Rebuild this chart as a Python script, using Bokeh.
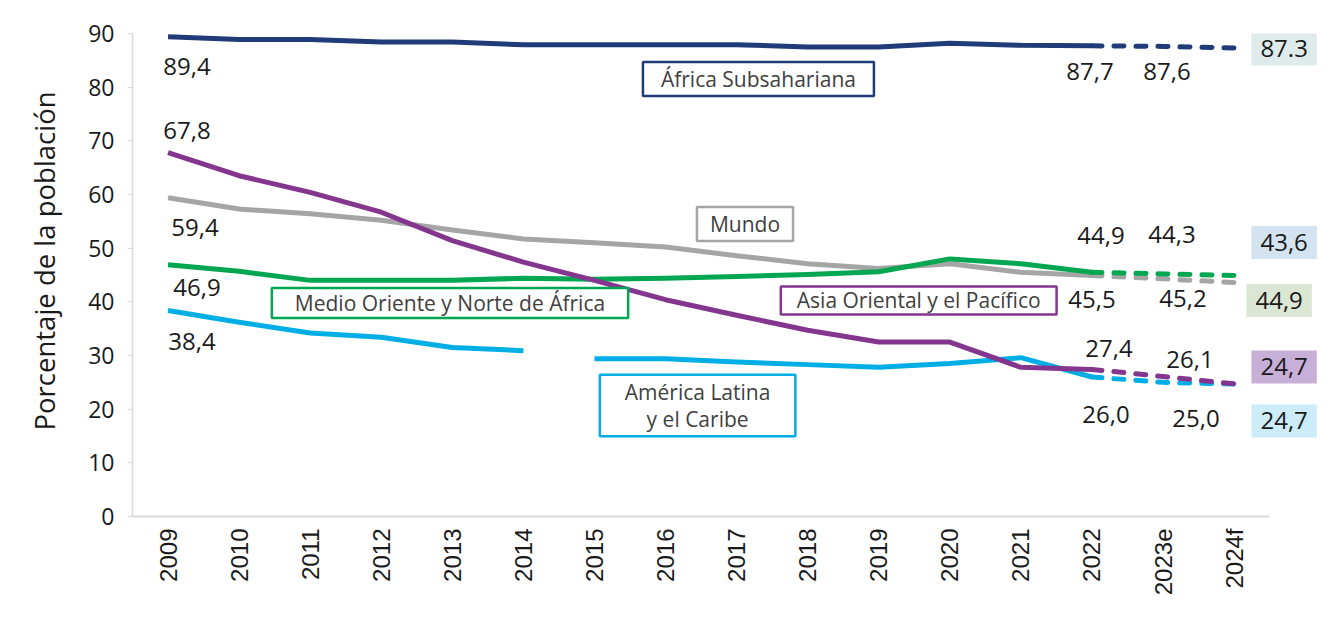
import math
from bokeh.plotting import figure
from bokeh.models import Range1d, FixedTicker, Label, Title
from bokeh.embed import file_html
from bokeh.resources import INLINE

# ---------------- data ----------------
years = ["2009", "2010", "2011", "2012", "2013", "2014", "2015", "2016",
         "2017", "2018", "2019", "2020", "2021", "2022", "2023e", "2024f"]

africa = [89.4, 88.9, 88.9, 88.4, 88.4, 87.9, 87.9, 87.9, 87.9, 87.5, 87.5, 88.2, 87.8, 87.7, 87.6, 87.3]
mundo = [59.4, 57.3, 56.4, 55.2, 53.4, 51.7, 51.0, 50.2, 48.6, 47.1, 46.2, 47.1, 45.5, 44.9, 44.3, 43.6]
mena = [46.9, 45.7, 44.0, 44.0, 44.0, 44.4, 44.2, 44.4, 44.7, 45.1, 45.6, 48.0, 47.1, 45.5, 45.2, 44.9]
eap = [67.8, 63.5, 60.4, 56.7, 51.4, 47.4, 44.0, 40.4, 37.5, 34.7, 32.5, 32.5, 27.8, 27.4, 26.1, 24.7]
lac = [38.4, 36.2, 34.2, 33.4, 31.5, 30.9, 29.4, 29.4, 28.8, 28.3, 27.8, 28.5, 29.6, 26.0, 25.0, 24.7]

names = {
    "africa": "África Subsahariana",
    "mundo": "Mundo",
    "mena": "Medio Oriente y Norte de África",
    "eap": "Asia Oriental y el Pacífico",
    "lac": "América Latina\ny el Caribe",
}
y_ticks = [0, 10, 20, 30, 40, 50, 60, 70, 80, 90]
y_title = "Porcentaje de la población"

last_actual = "2022"      # dashed afterwards (estimate / forecast)
lac_break_after = "2014"  # series break in LAC line

# ---------------- styles ----------------
colors = {"africa": "#203c78", "mundo": "#a5a5a5", "mena": "#00a650",
          "eap": "#84368f", "lac": "#00aee6"}
box_fill = {"africa": "#dfeaeb", "mundo": "#d3e3f0", "mena": "#dce6d4",
            "eap": "#c7afd8", "lac": "#ccecf9"}
series = {"africa": africa, "mundo": mundo, "mena": mena, "eap": eap, "lac": lac}
order = ["africa", "mundo", "mena", "lac", "eap"]

FONT = "Open Sans"
TXT = "#1a1a1a"

idx = list(range(len(years)))          # category positions on the x scale
n = len(years)

p = figure(width=1336, height=626, output_backend="svg", toolbar_location=None,
           x_range=Range1d(-0.5, n - 0.5 + 0.856), y_range=Range1d(0, 90))
p.min_border_left = 130
p.min_border_right = 6
p.min_border_top = 33
p.min_border_bottom = 110
p.outline_line_color = None
p.xgrid.visible = False
p.ygrid.visible = False
p.background_fill_color = "white"
p.border_fill_color = "white"

# axes
p.yaxis.ticker = FixedTicker(ticks=y_ticks)
p.yaxis.major_label_text_font = FONT
p.yaxis.major_label_text_font_size = "23px"
p.yaxis.major_label_text_color = TXT
p.yaxis.axis_line_color = "#d9d9d9"
p.yaxis.axis_line_width = 1.5
p.yaxis.major_tick_line_color = "#d9d9d9"
p.yaxis.major_tick_out = 5
p.yaxis.major_tick_in = 0
p.yaxis.minor_tick_line_color = None
p.yaxis.major_label_standoff = 13

p.xaxis.ticker = FixedTicker(ticks=idx)
p.xaxis.major_label_overrides = {i: y for i, y in zip(idx, years)}
p.xaxis.bounds = (-0.5, n - 0.5)
p.xaxis.major_label_orientation = math.pi / 2
p.xaxis.major_label_text_font = "Liberation Sans"
p.xaxis.major_label_text_font_size = "24px"
p.xaxis.major_label_text_color = TXT
p.xaxis.axis_line_color = "#d9d9d9"
p.xaxis.axis_line_width = 2
p.xaxis.major_tick_out = 0
p.xaxis.major_tick_in = 0
p.xaxis.minor_tick_line_color = None
p.xaxis.major_label_standoff = 12

# y-axis title
p.add_layout(Title(text=y_title, align="left", offset=86, text_font=FONT,
                   text_font_size="27.5px", text_font_style="normal",
                   text_color=TXT, standoff=46), "left")

# ---------------- lines ----------------
k = years.index(last_actual)
b = years.index(lac_break_after)
for key in order:
    vals = series[key]
    c = colors[key]
    segs = [(0, b + 1), (b + 1, k + 1)] if key == "lac" else [(0, k + 1)]
    for s, e in segs:
        p.line(idx[s:e], vals[s:e], line_color=c, line_width=5, line_join="round")
    p.line(idx[k:], vals[k:], line_color=c, line_width=5, line_dash="10 12",
           line_cap="round", line_join="round")

# ---------------- value labels ----------------
def fmt(v, sep=","):
    return f"{v:.1f}".replace(".", sep)

# (series, year, dx, dy) in screen px; dy positive = downward
value_labels = [
    ("africa", "2009", 19, 30), ("eap", "2009", 19, -22), ("mundo", "2009", 27, 30),
    ("mena", "2009", 29, 23), ("lac", "2009", 24, 31),
    ("africa", "2022", -2, 26), ("africa", "2023e", 4, 25),
    ("mundo", "2022", 9, -40), ("mundo", "2023e", 9, -44),
    ("mena", "2022", 0, 27), ("mena", "2023e", 20, 25),
    ("eap", "2022", 17, -21), ("eap", "2023e", 27, -17),
    ("lac", "2022", 14, 38), ("lac", "2023e", 33, 36),
]
for key, yr, dx, dy in value_labels:
    i = years.index(yr)
    p.add_layout(Label(x=idx[i], y=series[key][i], text=fmt(series[key][i]),
                       x_offset=dx, y_offset=-dy, text_align="center",
                       text_baseline="middle", text_font=FONT,
                       text_font_size="24px", text_color=TXT))

# boxed end values (2024f)
end_labels = [("africa", 50, 1, "."), ("mundo", 50, -40, ","), ("mena", 45, 25, ","),
              ("eap", 50, -17, ","), ("lac", 50, 37, ",")]
for key, dx, dy, sep in end_labels:
    i = n - 1
    p.add_layout(Label(x=idx[i], y=series[key][i], text=fmt(series[key][i], sep),
                       x_offset=dx, y_offset=-dy, text_align="center",
                       text_baseline="middle", text_font=FONT,
                       text_font_size="24px", text_color=TXT,
                       background_fill_color=box_fill[key],
                       padding=dict(left=9, right=9, top=8, bottom=8)))

# ---------------- series name boxes ----------------
name_boxes = [
    ("africa", 8.307, 81.5, dict(left=18, right=18, top=3, bottom=3)),
    ("mundo", 8.118, 54.5, dict(left=13, right=13, top=3, bottom=3)),
    ("mena", 3.967, 39.8, dict(left=23, right=23, top=1, bottom=1)),
    ("eap", 10.562, 40.25, dict(left=16, right=16, top=0, bottom=0)),
    ("lac", 7.451, 20.7, dict(left=25, right=25, top=3, bottom=3)),
]
for key, x, y, pad in name_boxes:
    p.add_layout(Label(x=x, y=y, text=names[key], text_align="center",
                       text_baseline="middle", text_font=FONT,
                       text_font_size="21px", text_color="#404040",
                       text_line_height=0.98,
                       background_fill_color="white",
                       border_line_color=colors[key], border_line_width=2.5,
                       padding=pad))

open("out.html", "w").write(file_html(p, INLINE))
